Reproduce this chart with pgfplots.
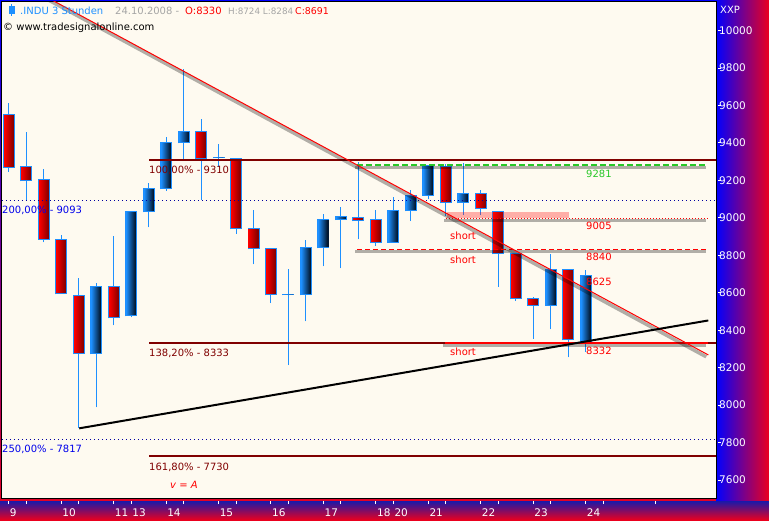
\documentclass[border=0pt]{standalone}
\usepackage{pgfplots}
\pgfplotsset{compat=1.18}
\usepackage{pgfplotstable}
\usepackage{fontspec}
\setmainfont{DejaVu Sans}
\definecolor{cream}{RGB}{254,250,240}
\definecolor{dodger}{RGB}{30,144,255}
\definecolor{dkred}{RGB}{128,0,0}
\definecolor{bodyred}{RGB}{255,0,0}
\definecolor{bodyredd}{RGB}{125,0,0}
\definecolor{bodyblue}{RGB}{30,144,255}
\definecolor{bodyblued}{RGB}{0,12,28}
\definecolor{fibblue}{RGB}{0,0,235}
\definecolor{dotblue}{RGB}{0,0,160}
\definecolor{lvlgreen}{RGB}{40,200,40}
\definecolor{hdrgrey}{RGB}{165,165,165}
\definecolor{stripblue}{RGB}{0,0,255}
\definecolor{stripred}{RGB}{235,0,30}
\definecolor{botblue}{RGB}{25,25,170}

\pgfplotstableread{
x o h l c
0 9550 9612 9247 9268
1 9272 9460 9095 9197
2 9203 9263 8869 8887
3 8882 8909 8594 8594
4 8583 8681 7880 8273
5 8273 8654 7988 8636
6 8633 8905 8426 8466
7 8476 9039 8469 9033
8 9032 9188 8949 9155
9 9155 9434 9144 9400
10 9400 9793 9304 9459
11 9459 9526 9096 9315
12 9320 9395 9274 9324
13 9315 9315 8914 8941
14 8941 9044 8752 8834
15 8834 8840 8544 8588
16 8588 8727 8213 8590
17 8588 8882 8447 8839
18 8839 9021 8741 8989
19 8991 9060 8730 9005
20 9000 9300 8885 8984
21 8989 9042 8850 8866
22 8869 9112 8867 9037
23 9037 9149 8982 9122
24 9122 9279 9099 9277
25 9272 9288 9012 9080
26 9080 9295 9014 9128
27 9128 9151 9017 9049
28 9035 9039 8633 8807
29 8807 8809 8558 8567
30 8567 8579 8355 8531
31 8533 8809 8405 8722
32 8722 8724 8255 8348
33 8330 8724 8284 8691
}\allcandles

% lo = lower body edge, d = body height
\pgfplotstableread{
x lo d
0 9268 282
1 9197 75
2 8887 316
3 8594 288
4 8273 310
6 8466 167
11 9315 144
13 8941 374
14 8834 107
15 8588 246
20 8984 16
21 8866 123
25 9080 192
27 9049 79
28 8807 228
29 8567 240
30 8531 36
32 8348 374
}\redcandles

\pgfplotstableread{
x lo d
5 8273 363
7 8476 557
8 9032 123
9 9155 245
10 9400 59
12 9320 4
16 8588 2
17 8588 251
18 8839 150
19 8991 14
22 8869 168
23 9037 85
24 9122 155
26 9080 48
31 8533 189
33 8330 361
}\bluecandles

\pgfplotsset{
  base/.style={
    at={(2pt,22pt)}, anchor=south west, scale only axis,
    width=714pt, height=496pt,
    xmin=-0.389, xmax=40.458, ymin=7503.9, ymax=10152.7,
  },
  ebar/.style 2 args={draw=none, mark=none,
    error bars/.cd, y dir=plus, y explicit, error mark=none,
    error bar style={draw=#1, line width=#2}},
}
\newcommand\lf{\fontsize{10}{12}\selectfont}

\begin{document}
\begin{tikzpicture}[x=1pt,y=1pt]
% outer gradient frame
\fill[top color=stripblue, bottom color=stripred] (0,0) rectangle (769,520);
\fill[left color=stripblue, right color=stripred] (716,19) rectangle (769,520);
\fill[top color=botblue, bottom color=stripred] (0,0) rectangle (769,19);

\begin{axis}[base,
  axis background/.style={fill=cream},
  axis line style={black, line width=1pt},
  xtick pos=left, ytick pos=right,
  tick align=outside, major tick length=3pt,
  xtick={0,1,3,4,6,7,9,10,12,13,15,16,18,19,21,22,24,25,27,28,30,31,33,34,37},
  xticklabels={9,,10,,11,13,14,,15,,16,,17,,18,20,21,,22,,23,,24,,},
  ytick={7600,7800,...,10000},
  tick style={white, line width=1pt},
  xtick style={yshift=-3pt},
  ytick style={xshift=2pt},
  xticklabel style={anchor=north west, inner sep=0pt, xshift=1pt, yshift=-8pt},
  yticklabel style={anchor=west, inner sep=0pt, xshift=0pt},
  ticklabel style={font=\fontsize{10.5}{12}\selectfont, text=white},
  /pgf/number format/1000 sep={}, /pgf/number format/assume math mode=true,
  scaled y ticks=false,
]
% wicks
\addplot[ebar={dodger}{1pt}]
  table[x=x, y=l, y error expr=\thisrow{h}-\thisrow{l}] \allcandles;
% red body outlines
\addplot[ebar={dodger}{12pt}]
  table[x=x, y expr=\thisrow{lo}-2.67, y error expr=\thisrow{d}+5.34] \redcandles;
% blue body outlines
\addplot[ebar={dodger}{12pt}]
  table[x=x, y expr=\thisrow{lo}-2.67, y error expr=\thisrow{d}+5.34] \bluecandles;
% gradient strips
\pgfplotsinvokeforeach{0,...,9}{
\addplot[ebar={bodyredd!#10!bodyred}{1.15pt}]
  table[x expr=\thisrow{x}+(#1-4.5)*0.0572, y expr=\thisrow{lo}+2.67,
        y error expr={max(\thisrow{d}-5.34,0.01)}] \redcandles;
\addplot[ebar={bodyblued!#10!bodyblue}{1.15pt}]
  table[x expr=\thisrow{x}+(#1-4.5)*0.0572, y expr=\thisrow{lo}+2.67,
        y error expr={max(\thisrow{d}-5.34,0.01)}] \bluecandles;
}
% dotted blue levels
\addplot[dotblue, line width=1pt, dash pattern=on 1pt off 3pt] coordinates {(-0.389,9093) (40.458,9093)};
\addplot[dotblue, line width=1pt, dash pattern=on 1pt off 3pt] coordinates {(-0.389,7817) (40.458,7817)};
% fibonacci levels
\addplot[dkred, line width=2pt] coordinates {(8.021,9310) (40.458,9310)};
\addplot[dkred, line width=2pt] coordinates {(8.021,8333) (40.458,8333)};
\addplot[dkred, line width=2pt] coordinates {(8.021,7730) (40.458,7730)};
% 9281 green level
\addplot[black, opacity=0.3, line width=3pt] coordinates {(19.81,9270) (39.885,9270)};
\addplot[lvlgreen, line width=2pt, dash pattern=on 6pt off 3pt] coordinates {(19.92,9281) (40.0,9281)};
% 9005 zone
\addplot[draw=none, fill=red, fill opacity=0.3] coordinates {(25.05,8998) (32.05,8998) (32.05,9033) (25.05,9033)};
\addplot[black, opacity=0.3, line width=3pt] coordinates {(24.9,8987) (39.885,8987)};
\addplot[red, line width=1pt, dash pattern=on 1pt off 2pt] coordinates {(25.01,8998) (40.0,8998)};
% 8840
\addplot[black, opacity=0.3, line width=3pt] coordinates {(19.81,8822) (39.885,8822)};
\addplot[red, line width=1pt, dash pattern=on 5pt off 3pt] coordinates {(19.92,8833) (40.0,8833)};
% 8332
\addplot[black, opacity=0.3, line width=3pt] coordinates {(24.84,8320) (39.885,8320)};
\addplot[red, line width=2pt] coordinates {(24.95,8333) (40.0,8333)};
% falling trendline
\addplot[black, opacity=0.3, line width=3.5pt] coordinates {(2.06,10174) (39.9,8258)};
\addplot[red, line width=1pt] coordinates {(2.0,10187) (40.017,8268)};
% rising trendline
\addplot[black, line width=2pt] coordinates {(4.03,7876) (40.017,8452)};
\end{axis}

% header
\draw[dodger, line width=1pt] (11.5,516) -- (11.5,504);
\fill[dodger] (8.5,506) rectangle (14.5,514);
\node[anchor=base west, inner sep=0pt, text=dodger] at (20,505) {\lf .INDU 3 Stunden};
\node[anchor=base west, inner sep=0pt, text=hdrgrey] at (115,505) {\lf 24.10.2008 -};
\node[anchor=base west, inner sep=0pt, text=red] at (185,505) {\lf O:8330};
\node[anchor=base west, inner sep=0pt, text=hdrgrey] at (228,505) {\fontsize{8.8}{10}\selectfont H:8724 L:8284};
\node[anchor=base west, inner sep=0pt, text=red] at (295,505) {\fontsize{9.4}{10}\selectfont C:8691};
\node[anchor=base west, inner sep=0pt, text=black] at (3,489) {\lf © www.tradesignalonline.com};
\node[anchor=base west, inner sep=0pt, text=white] at (720,506) {\lf XXP};

% level labels
\node[anchor=base west, inner sep=0pt, text=dkred] at (149,346) {\lf 100,00\% - 9310};
\node[anchor=base west, inner sep=0pt, text=dkred] at (149,163) {\lf 138,20\% - 8333};
\node[anchor=base west, inner sep=0pt, text=dkred] at (149,50) {\lf 161,80\% - 7730};
\node[anchor=base west, inner sep=0pt, text=fibblue] at (2,306) {\lf 200,00\% - 9093};
\node[anchor=base west, inner sep=0pt, text=fibblue] at (2,67.5) {\lf 250,00\% - 7817};
\node[anchor=base west, inner sep=0pt, text=red] at (170,32) {\lf\itshape v = A};
\node[anchor=base west, inner sep=0pt, text=lvlgreen] at (586,342.7) {\lf 9281};
\node[anchor=base west, inner sep=0pt, text=red] at (586,290) {\lf 9005};
\node[anchor=base west, inner sep=0pt, text=red] at (586,259.3) {\lf 8840};
\node[anchor=base west, inner sep=0pt, text=red] at (586,234) {\lf 8625};
\node[anchor=base west, inner sep=0pt, text=red] at (586,165) {\lf 8332};
\node[anchor=base west, inner sep=0pt, text=red] at (450,280) {\lf short};
\node[anchor=base west, inner sep=0pt, text=red] at (450,256.5) {\lf short};
\node[anchor=base west, inner sep=0pt, text=red] at (450,164.5) {\lf short};

\pgfresetboundingbox
\path (0,0) rectangle (769,520);
\end{tikzpicture}
\end{document}
